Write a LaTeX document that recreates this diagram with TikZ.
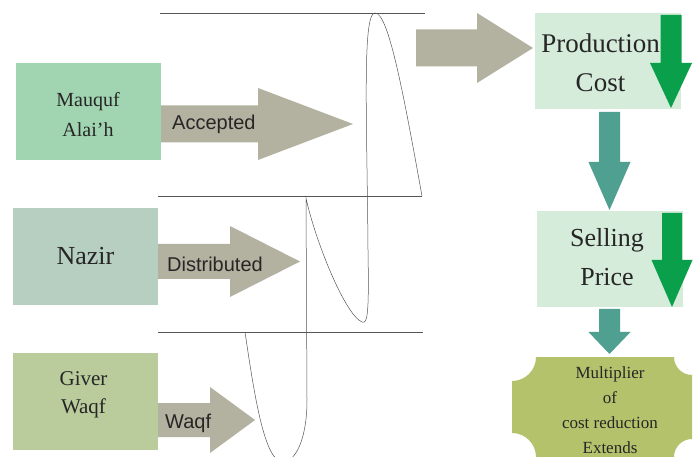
\documentclass[tikz,border=0pt]{standalone}
\usepackage{fontspec}
\setmainfont{Liberation Serif}
\newfontfamily\labelfont{Liberation Sans}
\usetikzlibrary{positioning, calc}
\definecolor{mauqufgreen}{RGB}{161, 212, 177}
\definecolor{nazirgray}{RGB}{182, 207, 193}
\definecolor{givergreen}{RGB}{186, 203, 156}
\definecolor{flowgray}{RGB}{179, 177, 160}
\definecolor{pricebg}{RGB}{213, 236, 218}
\definecolor{dropgreen}{RGB}{10, 160, 75}
\definecolor{stepteal}{RGB}{79, 160, 144}
\definecolor{multolive}{RGB}{181, 194, 108}
\definecolor{waveline}{RGB}{85, 85, 85}

% block arrows: colour, tail, neck, tip, middle, shaft half, head half
\newcommand{\rightblock}[7]{%
  \fill[#1] (#2,#5-#6) -- (#3,#5-#6) -- (#3,#5-#7) -- (#4,#5) -- (#3,#5+#7) -- (#3,#5+#6) -- (#2,#5+#6) -- cycle;}
\newcommand{\downblock}[7]{%
  \fill[#1] (#2-#6,#3) -- (#2+#6,#3) -- (#2+#6,#4) -- (#2+#7,#4) -- (#2,#5) -- (#2-#7,#4) -- (#2-#6,#4) -- cycle;}

\tikzset{
  partybox/.style={minimum width=145pt, minimum height=97pt, inner sep=0pt},
  pricebox/.style={fill=pricebg, minimum width=146pt, minimum height=96pt, inner sep=0pt},
  boxtxt/.style={align=center, text=black!85, inner sep=0pt},
  flowlabel/.style={font=\labelfont\fontsize{20}{24}\selectfont, anchor=west, inner sep=0pt, text=black!85},
}

\begin{document}
\begin{tikzpicture}[x=1pt, y=-1pt]
    % Background
    \useasboundingbox (0,0) rectangle (694,457);
    \fill[white] (0,0) rectangle (694,457);
    \clip (0,0) rectangle (694,457);

    % Parties
    \node[partybox, fill=mauqufgreen] (mauquf) at (88,112) {};
    \node[boxtxt, font=\fontsize{20}{30}\selectfont] (mauquftxt) at ([yshift=-3pt]mauquf.center) {Mauquf\\Alai’h};
    \node[partybox, fill=nazirgray] (nazir) at (85.5,256.5) {};
    \node[boxtxt, font=\fontsize{26}{30}\selectfont] (nazirtxt) at (nazir.center) {Nazir};
    \node[partybox, fill=givergreen] (giver) at (85.5,401.5) {};
    \node[boxtxt, font=\fontsize{21}{28}\selectfont] (givertxt) at ([xshift=-2pt, yshift=7pt]giver.center) {Giver\\Waqf};

    % Flows
    \rightblock{flowgray}{161}{258}{353}{124}{18.5}{36}
    \node[flowlabel] (accepted) at (172,124) {Accepted};
    \rightblock{flowgray}{158}{230}{300}{261.5}{17.5}{35.5}
    \node[flowlabel] (distributed) at (167,264) {Distributed};
    \rightblock{flowgray}{158}{210}{255}{420}{17}{33}
    \node[flowlabel] (waqf) at (165,423) {Waqf};
    \rightblock{flowgray}{416}{477}{533}{48}{18.5}{35}

    % Lines and wave
    \draw[waveline, line width=0.7pt] (160,13) -- (425,13);
    \draw[waveline, line width=0.7pt] (158,196) -- (422,196);
    \draw[waveline, line width=0.7pt] (158,332) -- (423,332);
    \draw[waveline, line width=0.5pt] (422,196) .. controls (402,85) and (388,13) .. (375,13)
        .. controls (362,13) and (367,120) .. (368,250)
        .. controls (369,310) and (368,325) .. (362,322)
        .. controls (345,315) and (315,240) .. (306,198)
        -- (307,400) .. controls (307,440) and (295,462) .. (283,462)
        .. controls (265,462) and (255,400) .. (245,332);

    % Price side
    \node[pricebox] (prod) at (607.5,61.5) {};
    \node[boxtxt, font=\fontsize{27}{39}\selectfont] (prodtxt) at ([xshift=-7pt, yshift=-1pt]prod.center) {Production\\Cost};
    \downblock{dropgreen}{671}{15}{63}{108}{10.5}{21}
    \node[pricebox] (sell) at (610,259.5) {};
    \node[boxtxt, font=\fontsize{26}{39}\selectfont] (selltxt) at ([xshift=-3pt, yshift=2pt]sell.center) {Selling\\Price};
    \downblock{dropgreen}{672}{213}{260}{307}{10}{20.5}
    \downblock{stepteal}{609.5}{112}{162}{210}{10.5}{21}
    \downblock{stepteal}{609.5}{309}{332}{354}{10.5}{21}

    % Multiplier plaque
    \fill[multolive] (536,357) -- (674,357) .. controls (674,366.9) and (682.1,375) .. (692,375)
        -- (692,439) .. controls (682.1,439) and (674,447.1) .. (674,457)
        -- (536,457) .. controls (536,443.7) and (525.3,433) .. (512,433)
        -- (512,381) .. controls (525.3,381) and (536,370.3) .. (536,357) -- cycle;
    \node[boxtxt, font=\fontsize{17}{25}\selectfont] (mult) at (610,410) {Multiplier\\of\\cost reduction\\Extends};

\end{tikzpicture}
\end{document}
